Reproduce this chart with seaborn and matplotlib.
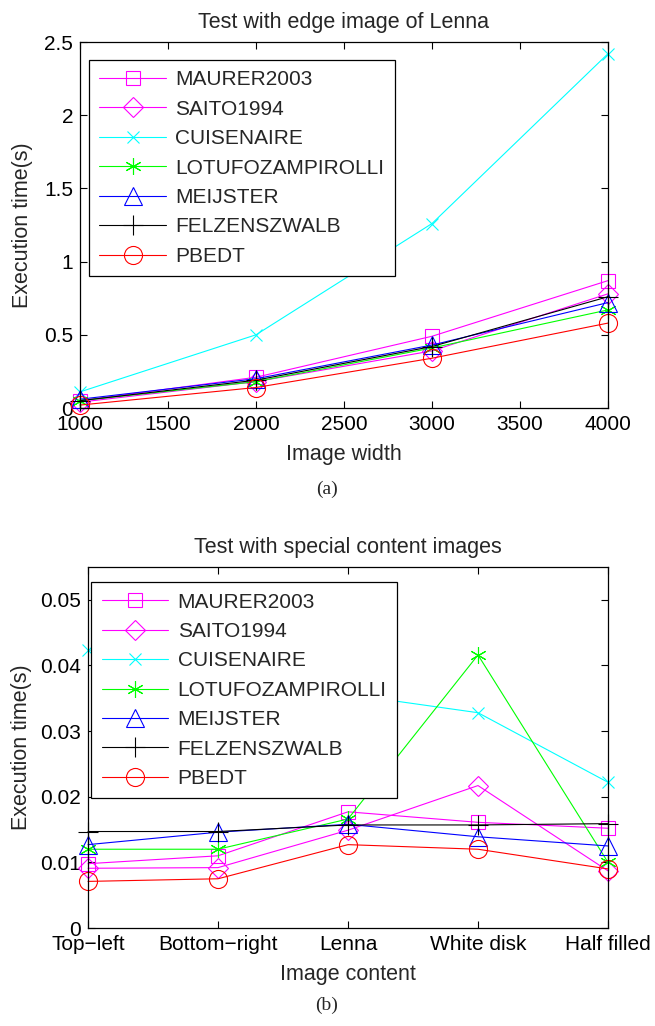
import matplotlib
matplotlib.use("Agg")
import matplotlib.pyplot as plt
import seaborn as sns
import pandas as pd

# ---------------- data ----------------
methods = ["MAURER2003", "SAITO1994", "CUISENAIRE", "LOTUFOZAMPIROLLI",
           "MEIJSTER", "FELZENSZWALB", "PBEDT"]

# (a) edge image of Lenna
widths = [1000, 2000, 3000, 4000]
maurer_a = [0.05, 0.21, 0.49, 0.87]
saito_a = [0.04, 0.18, 0.39, 0.78]
cuis_a = [0.11, 0.50, 1.26, 2.42]
lotufo_a = [0.05, 0.18, 0.41, 0.67]
meijster_a = [0.06, 0.20, 0.43, 0.72]
felz_a = [0.05, 0.19, 0.42, 0.76]
pbedt_a = [0.02, 0.14, 0.34, 0.58]

# (b) special content images
contents = ["Top\u2212left", "Bottom\u2212right", "Lenna", "White disk", "Half filled"]
maurer_b = [0.0098, 0.0110, 0.0177, 0.0161, 0.0152]
saito_b = [0.0091, 0.0092, 0.0149, 0.0217, 0.0087]
cuis_b = [0.0424, 0.0390, 0.0356, 0.0328, 0.0222]
lotufo_b = [0.0120, 0.0120, 0.0166, 0.0416, 0.0100]
meijster_b = [0.0127, 0.0146, 0.0158, 0.0139, 0.0125]
felz_b = [0.0147, 0.0147, 0.0157, 0.0157, 0.0159]
pbedt_b = [0.0071, 0.0075, 0.0127, 0.0120, 0.0090]

yticks_a = [0, 0.5, 1, 1.5, 2, 2.5]
ytick_labels_a = ["0", "0.5", "1", "1.5", "2", "2.5"]
xticks_a = [1000, 1500, 2000, 2500, 3000, 3500, 4000]
yticks_b = [0, 0.01, 0.02, 0.03, 0.04, 0.05]
ytick_labels_b = ["0", "0.01", "0.02", "0.03", "0.04", "0.05"]

# ---------------- styles ----------------
colors = ["#ff00ff", "#ff00ff", "#00ffff", "#00ff00", "#0000ff", "#000000", "#ff0000"]
markers = ["s", "D", "x", (6, 2, 0), "^", "+", "o"]
msizes = [10, 10, 8, 12, 13, 14, 13]

sns.set_style("ticks")
plt.rcParams["font.family"] = ["Liberation Sans", "DejaVu Sans"]
plt.rcParams["font.size"] = 15
plt.rcParams["axes.linewidth"] = 0.9
plt.rcParams["xtick.direction"] = "in"
plt.rcParams["ytick.direction"] = "in"
plt.rcParams["xtick.color"] = "black"
plt.rcParams["ytick.color"] = "black"
plt.rcParams["axes.edgecolor"] = "black"

fig = plt.figure(figsize=(6.55, 10.26), dpi=100)
W, H = 655.0, 1026.0


def axes_px(left, top, right, bottom):
    return fig.add_axes([left / W, 1 - bottom / H, (right - left) / W, (bottom - top) / H])


def draw(ax, x, series, lx, ly):
    handles = []
    for name, vals, c, m, ms in zip(methods, series, colors, markers, msizes):
        df = pd.DataFrame({"x": x, "y": vals})
        sns.lineplot(data=df, x="x", y="y", ax=ax, color=c, marker=m,
                     markersize=ms, markerfacecolor="none", markeredgecolor=c,
                     markeredgewidth=0.8, linewidth=0.8, clip_on=False,
                     sort=False, label=name, legend=False)
        handles.append(ax.lines[-1])
    leg = ax.legend(handles=handles, labels=methods, loc="upper left",
                    bbox_to_anchor=(lx, ly), borderaxespad=0, fancybox=False,
                    framealpha=1, edgecolor="black", fontsize=15,
                    handlelength=3.2, handletextpad=0.45, labelspacing=0.5,
                    borderpad=0.5)
    leg.get_frame().set_linewidth(0.9)
    ax.tick_params(which="both", top=True, right=True, length=5, width=0.8,
                   labelsize=15, pad=5)
    for s in ax.spines.values():
        s.set_visible(True)
        s.set_color("black")


# ---- (a) ----
ax1 = axes_px(80, 42, 608, 408)
draw(ax1, widths, [maurer_a, saito_a, cuis_a, lotufo_a, meijster_a, felz_a, pbedt_a],
     0.017, 0.951)
ax1.set_xlim(1000, 4000)
ax1.set_ylim(0, 2.5)
ax1.set_xticks(xticks_a)
ax1.set_xticklabels([str(v) for v in xticks_a])
ax1.set_yticks(yticks_a)
ax1.set_yticklabels(ytick_labels_a)
ax1.set_title("Test with edge image of Lenna", fontsize=15.5, pad=10)
ax1.set_xlabel("Image width", fontsize=15.5, labelpad=7)
ax1.set_ylabel("Execution time(s)", fontsize=15.5, labelpad=8)

# ---- (b) ----
ax2 = axes_px(88, 567, 608, 928)
draw(ax2, contents, [maurer_b, saito_b, cuis_b, lotufo_b, meijster_b, felz_b, pbedt_b],
     0.006, 0.958)
ax2.set_xlim(0, len(contents) - 1)
ax2.set_ylim(0, 0.055)
ax2.set_yticks(yticks_b)
ax2.set_yticklabels(ytick_labels_b)
ax2.set_title("Test with special content images", fontsize=15.5, pad=10)
ax2.set_xlabel("Image content", fontsize=15.5, labelpad=7)
ax2.set_ylabel("Execution time(s)", fontsize=15.5, labelpad=6)

fig.text(327 / W, 1 - 489 / H, "(a)", ha="center", va="center",
         family=["Liberation Serif", "DejaVu Serif"], fontsize=14)
fig.text(327 / W, 1 - 1005 / H, "(b)", ha="center", va="center",
         family=["Liberation Serif", "DejaVu Serif"], fontsize=14)

fig.savefig("out.png", dpi=100)
